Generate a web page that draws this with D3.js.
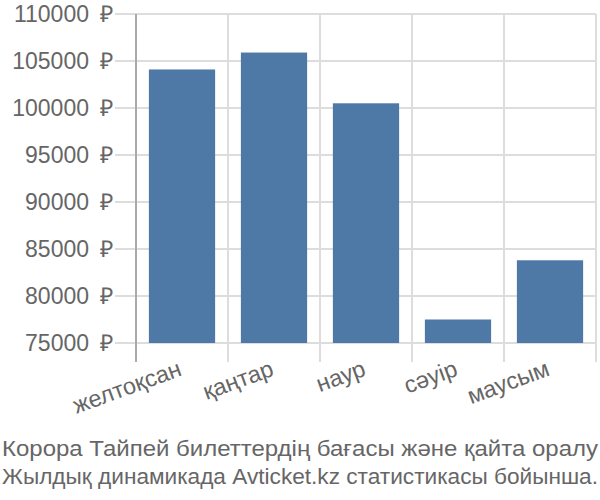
<!DOCTYPE html>
<html><head><meta charset="utf-8">
<script src="https://cdn.jsdelivr.net/npm/d3@7"></script>
<style>body{margin:0;background:#fff}text{font-family:"Liberation Sans",Arial,sans-serif}</style>
</head><body><svg id="c" width="600" height="500"></svg>
<script>
const categories = ["желтоқсан","қаңтар","наур","сәуір","маусым"];
const values = [104100, 105900, 100500, 77500, 83800];
const yTicks = [75000,80000,85000,90000,95000,100000,105000,110000];
const titleLines = ["Корора Тайпей билеттердің бағасы және қайта оралу","Жылдық динамикада Avticket.kz статистикасы бойынша."];

const svg = d3.select("#c");
const L=136, R=596, T=14, B=343;
const x = d3.scaleBand().domain(categories).range([L,R]).paddingInner(0.28).paddingOuter(0.14);
const y = d3.scaleLinear().domain([75000,110000]).range([B,T]);

// horizontal grid
svg.append("g").selectAll("line").data(yTicks).join("line")
  .attr("x1",115).attr("x2",R).attr("y1",d=>y(d)).attr("y2",d=>y(d))
  .attr("stroke","#dddddd").attr("stroke-width",2);
// vertical grid
const vx = categories.map(c=>x(c)-x.step()*x.paddingInner()/2).concat([R]);
svg.append("g").selectAll("line").data(vx).join("line")
  .attr("x1",d=>d).attr("x2",d=>d).attr("y1",T).attr("y2",362)
  .attr("stroke",(d,i)=>i===0?"#aaaaaa":"#dddddd").attr("stroke-width",2);

svg.append("g").selectAll("rect").data(values).join("rect")
  .attr("x",(d,i)=>x(categories[i])).attr("width",x.bandwidth())
  .attr("y",d=>y(d)).attr("height",d=>B-y(d))
  .attr("fill","#4e79a7");

svg.append("g").selectAll("text").data(yTicks).join("text")
  .attr("x",113).attr("y",d=>y(d)+8).attr("text-anchor","end")
  .attr("font-size",23).attr("fill","#666").text(d=>d+" \u2009₽");

svg.append("g").selectAll("text").data(categories).join("text")
  .attr("text-anchor","end").attr("font-size",23.5).attr("fill","#666")
  .attr("transform",d=>`translate(${x(d)+x.bandwidth()/2+1},${375}) rotate(-20)`)
  .text(d=>d);

svg.append("g").selectAll("text").data(titleLines).join("text")
  .attr("x",2).attr("y",(d,i)=>456+i*28).attr("font-size",22.5).attr("fill","#666")
  .attr("textLength",596).attr("lengthAdjust","spacingAndGlyphs").text(d=>d);
</script></body></html>
